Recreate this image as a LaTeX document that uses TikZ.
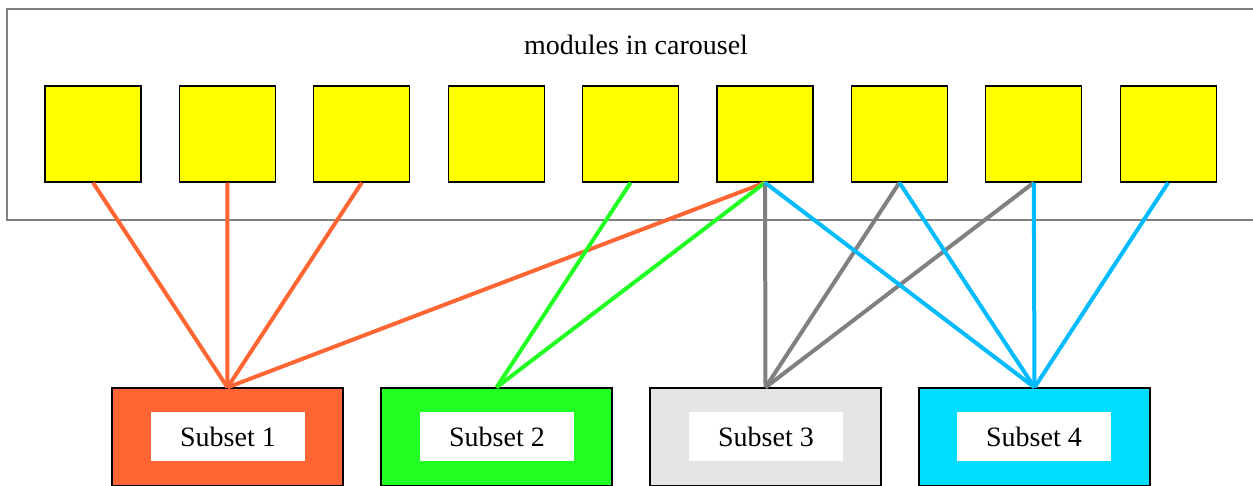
\documentclass[tikz,border=0pt]{standalone}
\usepackage{fontspec}
\setmainfont{Liberation Serif}
\definecolor{sOrange}{HTML}{FF6633}
\definecolor{sGreen}{HTML}{22FF22}
\definecolor{sGreyFill}{HTML}{E5E5E5}
\definecolor{sGreyLine}{HTML}{808080}
\definecolor{sBlueFill}{HTML}{00DDFF}
\definecolor{sBlueLine}{HTML}{00BBFF}
\definecolor{modYellow}{HTML}{FFFF00}
\begin{document}
\begin{tikzpicture}[x=1pt,y=-1pt,
  frame/.style={draw=sGreyLine,line width=2pt,fill=white,inner sep=0pt},
  module/.style={draw=black,line width=1.2pt,fill=modYellow,minimum size=96pt,inner sep=0pt},
  subsetbox/.style={draw=black,line width=1.2pt,minimum width=231pt,minimum height=98pt,inner sep=0pt},
  subsetlabel/.style={fill=white,minimum width=154pt,minimum height=49pt,inner sep=0pt,font=\fontsize{28}{34}\selectfont},
  link/.style={line width=4pt}]
\useasboundingbox (0,0) rectangle (1253,485);
\begin{scope}
\clip (0,0) rectangle (1253,485);
% carousel frame
\node[frame,minimum width=1254pt,minimum height=211pt] (carousel) at (634,114.5) {};
\node[font=\fontsize{28}{34}\selectfont] (title) at (636,45) {modules in carousel};
% modules
\foreach \i in {1,...,9}{
  \node[module] (m\i) at ({93+134.4*(\i-1)},134) {};
}
% subsets
\node[subsetbox,fill=sOrange] (s1) at (227.5,437) {};
\node[subsetbox,fill=sGreen] (s2) at (496.5,437) {};
\node[subsetbox,fill=sGreyFill] (s3) at (765.5,437) {};
\node[subsetbox,fill=sBlueFill] (s4) at (1034.5,437) {};
\node[subsetlabel] (l1) at (228,436.5) {Subset 1};
\node[subsetlabel] (l2) at (497,436.5) {Subset 2};
\node[subsetlabel] (l3) at (766,436.5) {Subset 3};
\node[subsetlabel] (l4) at (1034,436.5) {Subset 4};
% links from modules to subsets
\foreach \m in {1,2,3,6}{ \draw[link,sOrange] (m\m.south) -- (s1.north); }
\foreach \m in {5,6}{ \draw[link,sGreen] (m\m.south) -- (s2.north); }
\foreach \m in {6,7,8}{ \draw[link,sGreyLine] (m\m.south) -- (s3.north); }
\foreach \m in {6,7,8,9}{ \draw[link,sBlueLine] (m\m.south) -- (s4.north); }
\end{scope}
\end{tikzpicture}
\end{document}
